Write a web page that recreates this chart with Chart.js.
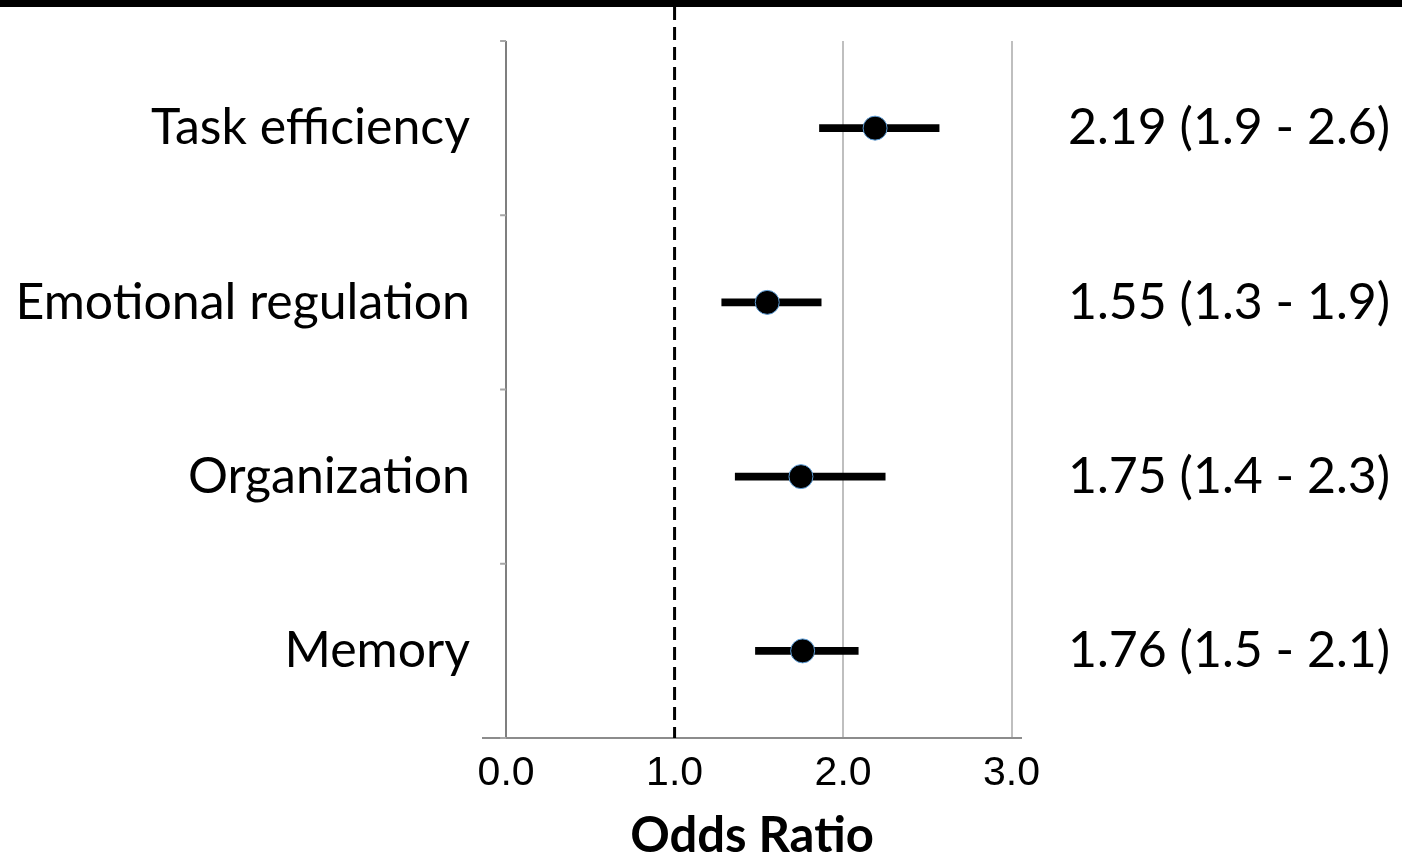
<!DOCTYPE html>
<html>
<head>
<meta charset="utf-8">
<script src="https://cdn.jsdelivr.net/npm/chart.js@4"></script>
<style>
  html, body { margin: 0; padding: 0; background: #fff; }
  #wrap { width: 1402px; height: 857px; }
</style>
</head>
<body>
<div id="wrap"><canvas id="forest"></canvas></div>
<script>
const outcomes = ['Task efficiency', 'Emotional regulation', 'Organization', 'Memory'];
const oddsRatio = [2.19, 1.55, 1.75, 1.76];
const ciLower = [1.86, 1.28, 1.36, 1.48];
const ciUpper = [2.57, 1.87, 2.25, 2.09];
const orText = ['2.19 (1.9 - 2.6)', '1.55 (1.3 - 1.9)', '1.75 (1.4 - 2.3)', '1.76 (1.5 - 2.1)'];
const xTicks = [0, 1, 2, 3];
const refLine = 1;

// top rule, dashed reference line at OR = 1 and short ticks on the 0 axis
const extras = {
    id: 'extras',
    beforeDatasetsDraw(chart) {
        const ctx = chart.ctx;
        const x = chart.scales.x;
        const y = chart.scales.y;
        const area = chart.chartArea;
        ctx.save();
        ctx.fillStyle = '#000';
        ctx.fillRect(0, 0, chart.width, 7);

        ctx.strokeStyle = '#000';
        ctx.lineWidth = 3;
        ctx.setLineDash([13, 7]);
        const rx = x.getPixelForValue(refLine);
        ctx.beginPath();
        ctx.moveTo(rx, 7);
        ctx.lineTo(rx, area.bottom);
        ctx.stroke();

        ctx.setLineDash([]);
        ctx.strokeStyle = '#a6a6a6';
        ctx.lineWidth = 2;
        const x0 = x.getPixelForValue(0);
        for (let i = 0; i <= outcomes.length; i++) {
            const py = y.getPixelForValue(i - 0.5);
            ctx.beginPath();
            ctx.moveTo(x0 - 6, py);
            ctx.lineTo(x0, py);
            ctx.stroke();
        }
        ctx.restore();
    }
};

const config = {
    type: 'bar',
    data: {
        labels: outcomes,
        datasets: [
            {
                type: 'scatter',
                data: oddsRatio.map((v, i) => ({ x: v, y: outcomes[i] })),
                backgroundColor: '#000',
                borderColor: '#5b9bd5',
                borderWidth: 1,
                pointRadius: 12,
                pointHoverRadius: 12,
                order: 0
            },
            {
                type: 'bar',
                indexAxis: 'y',
                data: ciLower.map((v, i) => [v, ciUpper[i]]),
                backgroundColor: '#000',
                barThickness: 7,
                order: 1
            }
        ]
    },
    options: {
        responsive: true,
        maintainAspectRatio: false,
        animation: false,
        indexAxis: 'y',
        layout: { padding: { top: 41, bottom: 0, left: 0, right: 0 } },
        plugins: {
            legend: { display: false },
            tooltip: { enabled: false }
        },
        scales: {
            x: {
                type: 'linear',
                min: -0.137,
                max: 3.056,
                afterBuildTicks: s => { s.ticks = xTicks.map(v => ({ value: v })); },
                afterFit: s => { s.height = 119; s.paddingLeft = 0; s.paddingRight = 0; },
                ticks: {
                    padding: 11,
                    color: '#000',
                    font: { family: 'Liberation Sans', size: 41 },
                    callback: v => Number(v).toFixed(1)
                },
                grid: {
                    drawTicks: false,
                    lineWidth: 2,
                    color: c => c.tick.value === 0 ? '#7f7f7f' : (c.tick.value === refLine ? 'rgba(0,0,0,0)' : '#bfbfbf')
                },
                border: { display: true, color: '#8c8c8c', width: 2 },
                title: {
                    display: true,
                    text: 'Odds Ratio',
                    color: '#000',
                    padding: { top: 0, bottom: 0 },
                    font: { family: 'Lato', size: 49, weight: 'bold', lineHeight: 0.85 }
                }
            },
            y: {
                type: 'category',
                labels: outcomes,
                offset: true,
                afterFit: s => { s.width = 483; s.paddingTop = 0; s.paddingBottom = 0; },
                grid: { display: false, drawTicks: false },
                border: { display: false },
                ticks: {
                    padding: 13,
                    color: '#000',
                    font: { family: 'Lato', size: 50 }
                }
            },
            y2: {
                type: 'category',
                position: 'right',
                labels: orText,
                offset: true,
                afterFit: s => { s.width = 381; s.paddingTop = 0; s.paddingBottom = 0; },
                grid: { display: false, drawTicks: false },
                border: { display: false },
                ticks: {
                    padding: 47,
                    color: '#000',
                    font: { family: 'Lato', size: 50 }
                }
            }
        }
    },
    plugins: [extras]
};

const forestChart = new Chart(
    document.getElementById('forest'),
    config
);
</script>
</body>
</html>
